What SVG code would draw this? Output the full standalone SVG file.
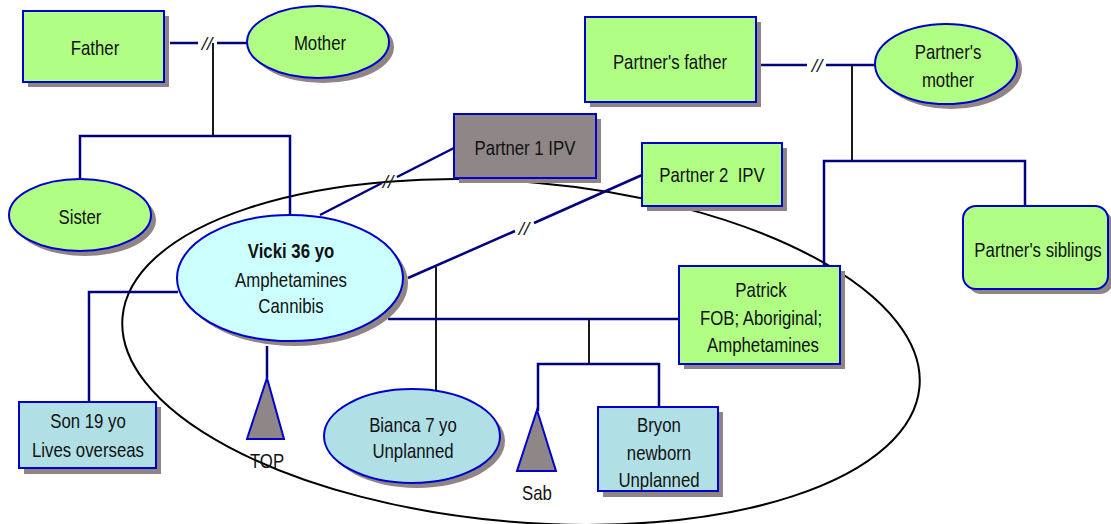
<svg xmlns="http://www.w3.org/2000/svg" width="1111" height="524" viewBox="0 0 1111 524">
  <defs>
    <style>
      .t { font-family: "Liberation Sans", Arial, sans-serif; font-size: 20px; fill: #111; text-anchor: middle; }
      .b { font-weight: bold; }
      .sh { fill: #8f8585; }
      .green { fill: #b0ff84; stroke: #0000cc; stroke-width: 2; }
      .aqua { fill: #ccffff; stroke: #0000cc; stroke-width: 2; }
      .blue { fill: #b0e0e6; stroke: #0000cc; stroke-width: 2; }
      .grey { fill: #8f8787; stroke: #0000cc; stroke-width: 2; }
      .ln { fill: none; stroke: #000080; stroke-width: 2.5; }
      .blk { fill: none; stroke: #1a1a1a; stroke-width: 2; }
      .sl { font-family: "Liberation Sans", Arial, sans-serif; font-size: 19px; font-style: italic; fill: #222; text-anchor: middle; }
    </style>
  </defs>

  <!-- household boundary -->
  <ellipse cx="521" cy="352" rx="400" ry="170" transform="rotate(5 521 352)" fill="none" stroke="#000" stroke-width="2"/>

  <!-- connectors -->
  <g id="connectors">
    <!-- parents of Vicki -->
    <path class="ln" d="M170 43 H198 M217 43 H248"/>
    <text class="sl" x="207" y="50">//</text>
    <path class="blk" d="M213 43 V136"/>
    <path class="ln" d="M80 178 V136 H290 V214"/>
    <!-- partner 1 -->
    <path class="ln" d="M320 215 L382 183 M397 177 L454 148"/>
    <text class="sl" x="388" y="188">//</text>
    <!-- partner 2 -->
    <path class="ln" d="M408 278 L515 231 M534 223 L642 175"/>
    <text class="sl" x="524" y="235">//</text>
    <path class="blk" d="M436 267 V390"/>
    <!-- son -->
    <path class="ln" d="M178 292 H89 V401"/>
    <!-- TOP -->
    <path class="ln" d="M267 346 V378"/>
    <!-- Vicki - Patrick -->
    <path class="ln" d="M388 319 H679"/>
    <path class="blk" d="M589 319 V364"/>
    <path class="ln" d="M538 411 V364 H659 V406"/>
    <!-- partner's parents -->
    <path class="ln" d="M761 65 H807 M826 65 H876"/>
    <text class="sl" x="817" y="72">//</text>
    <path class="blk" d="M852 65 V162"/>
    <path class="ln" d="M824 266 V161 H1025 V206"/>
  </g>

  <g id="father">
    <rect class="sh" x="28" y="16" width="141" height="71"/>
    <rect class="green" x="23" y="11" width="141" height="71"/>
    <text class="t" transform="translate(95 55) scale(.84 1)">Father</text>
  </g>

  <g id="mother">
    <ellipse class="sh" cx="323" cy="47" rx="71" ry="36"/>
    <ellipse class="green" cx="318" cy="42" rx="71" ry="36"/>
    <text class="t" transform="translate(320 50) scale(.84 1)">Mother</text>
  </g>

  <g id="sister">
    <ellipse class="sh" cx="85" cy="220" rx="71" ry="36"/>
    <ellipse class="green" cx="80" cy="215" rx="71" ry="36"/>
    <text class="t" transform="translate(80 224) scale(.84 1)">Sister</text>
  </g>

  <g id="partner1">
    <rect class="sh" x="459" y="119" width="142" height="64"/>
    <rect class="grey" x="454" y="114" width="142" height="64"/>
    <text class="t" transform="translate(525 155) scale(.84 1)">Partner 1 IPV</text>
  </g>

  <g id="partner2">
    <rect class="sh" x="647" y="148" width="140" height="63"/>
    <rect class="green" x="642" y="143" width="140" height="63"/>
    <text class="t" transform="translate(712 182) scale(.84 1)" xml:space="preserve">Partner 2  IPV</text>
  </g>

  <g id="vicki">
    <ellipse class="sh" cx="295" cy="283" rx="113" ry="63"/>
    <ellipse class="aqua" cx="290" cy="278" rx="113" ry="63"/>
    <text class="t b" transform="translate(291 258) scale(.84 1)">Vicki 36 yo</text>
    <text class="t" transform="translate(291 287) scale(.84 1)">Amphetamines</text>
    <text class="t" transform="translate(291 313) scale(.84 1)">Cannibis</text>
  </g>

  <g id="son">
    <rect class="sh" x="24" y="407" width="137" height="67"/>
    <rect class="blue" x="19" y="402" width="137" height="66"/>
    <text class="t" transform="translate(88 428) scale(.84 1)">Son 19 yo</text>
    <text class="t" transform="translate(88 457) scale(.84 1)">Lives overseas</text>
  </g>

  <g id="top">
    <polygon class="grey" points="267,378 284,439 247,439"/>
    <text class="t" transform="translate(267 468) scale(.84 1)">TOP</text>
  </g>

  <g id="bianca">
    <ellipse class="sh" cx="417" cy="441" rx="88" ry="47"/>
    <ellipse class="blue" cx="412" cy="436" rx="88" ry="47"/>
    <text class="t" transform="translate(413 432) scale(.84 1)">Bianca 7 yo</text>
    <text class="t" transform="translate(413 458) scale(.84 1)">Unplanned</text>
  </g>

  <g id="sab">
    <polygon class="grey" points="537,410 556,471 517,471"/>
    <text class="t" transform="translate(537 500) scale(.84 1)">Sab</text>
  </g>

  <g id="bryon">
    <rect class="sh" x="603" y="412" width="120" height="85"/>
    <rect class="blue" x="598" y="407" width="120" height="84"/>
    <text class="t" transform="translate(659 432) scale(.84 1)">Bryon</text>
    <text class="t" transform="translate(659 460) scale(.84 1)">newborn</text>
    <text class="t" transform="translate(659 487) scale(.84 1)">Unplanned</text>
  </g>

  <g id="patrick">
    <rect class="sh" x="684" y="271" width="161" height="98"/>
    <rect class="green" x="679" y="266" width="161" height="98"/>
    <text class="t" transform="translate(761 297) scale(.84 1)">Patrick</text>
    <text class="t" transform="translate(761 325) scale(.84 1)">FOB; Aboriginal;</text>
    <text class="t" transform="translate(763 352) scale(.84 1)">Amphetamines</text>
  </g>

  <g id="partners-father">
    <rect class="sh" x="590" y="22" width="171" height="85"/>
    <rect class="green" x="585" y="17" width="171" height="85"/>
    <text class="t" transform="translate(670 69) scale(.84 1)">Partner's father</text>
  </g>

  <g id="partners-mother">
    <ellipse class="sh" cx="951" cy="69" rx="71" ry="40"/>
    <ellipse class="green" cx="946" cy="64" rx="71" ry="40"/>
    <text class="t" transform="translate(948 59) scale(.84 1)">Partner's</text>
    <text class="t" transform="translate(948 87) scale(.84 1)">mother</text>
  </g>

  <g id="partners-siblings">
    <rect class="sh" x="968" y="211" width="145" height="83" rx="13"/>
    <rect class="green" x="963" y="206" width="145" height="83" rx="13"/>
    <text class="t" transform="translate(1038 257) scale(.84 1)">Partner's siblings</text>
  </g>
</svg>
